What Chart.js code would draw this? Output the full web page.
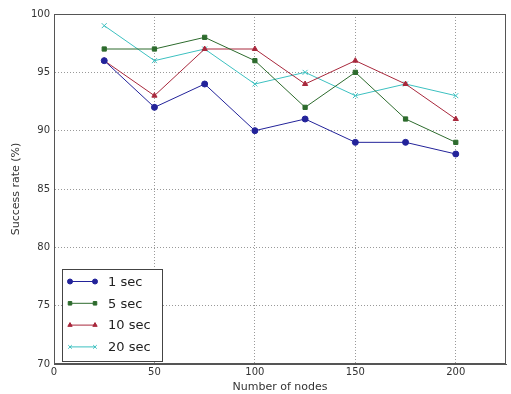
<!DOCTYPE html>
<html>
<head>
<meta charset="utf-8">
<script src="https://cdn.jsdelivr.net/npm/chart.js@4"></script>
<style>
  html, body { margin: 0; padding: 0; background: #fff; }
  #wrap { width: 511px; height: 394px; position: relative; }
</style>
</head>
<body>
<div id="wrap"><canvas id="chart" width="511" height="394"></canvas></div>
<script>
// Data
const nodes = [25, 50, 75, 100, 125, 150, 175, 200];
const sec1 = [96, 92, 94, 90, 91, 89, 89, 88];
const sec5 = [97, 97, 98, 96, 92, 95, 91, 89];
const sec10 = [96, 93, 97, 97, 94, 96, 94, 91];
const sec20 = [99, 96, 97, 94, 95, 93, 94, 93];
const xTicks = [0, 50, 100, 150, 200];
const yTicks = [70, 75, 80, 85, 90, 95, 100];

const pts = vals => vals.map((v, i) => ({ x: nodes[i], y: v }));

function series(label, vals, color, style) {
  return {
    label: label,
    data: pts(vals),
    borderColor: color,
    backgroundColor: color,
    borderWidth: 1,
    pointStyle: style,
    pointRadius: style === 'crossRot' ? 3.5 : 3,
    pointBorderWidth: 1,
    showLine: true,
    tension: 0
  };
}

// matplotlib-like legend box in the lower left
const legendBox = {
  id: 'legendBox',
  afterDraw(chart) {
    const ctx = chart.ctx;
    const x0 = 62, y0 = 269, w = 100, h = 92;
    ctx.save();
    ctx.fillStyle = '#fff';
    ctx.fillRect(x0, y0, w, h);
    ctx.strokeStyle = '#444';
    ctx.lineWidth = 1;
    ctx.strokeRect(x0 + 0.5, y0 + 0.5, w, h);
    ctx.font = '13px "DejaVu Sans"';
    ctx.textBaseline = 'middle';
    chart.data.datasets.forEach((ds, i) => {
      const y = y0 + 12.5 + i * 21.8;
      ctx.strokeStyle = ds.borderColor;
      ctx.fillStyle = ds.backgroundColor;
      ctx.beginPath();
      ctx.moveTo(x0 + 8, y);
      ctx.lineTo(x0 + 33, y);
      ctx.stroke();
      [x0 + 8, x0 + 33].forEach(px => {
        Chart.helpers.drawPoint(ctx, { pointStyle: ds.pointStyle, radius: 2.5, borderWidth: 1 }, px, y);
      });
      ctx.fillStyle = '#222';
      ctx.fillText(ds.label, x0 + 46, y + 1);
    });
    ctx.restore();
  }
};

const tickFont = { family: 'DejaVu Sans', size: 10 };
const titleFont = { family: 'DejaVu Sans', size: 11 };

new Chart(document.getElementById('chart').getContext('2d'), {
  type: 'scatter',
  data: {
    datasets: [
      series('1 sec', sec1, '#23239a', 'circle'),
      series('5 sec', sec5, '#2d6b2d', 'rect'),
      series('10 sec', sec10, '#a8283c', 'triangle'),
      series('20 sec', sec20, '#3cc0c0', 'crossRot')
    ]
  },
  options: {
    responsive: false,
    animation: false,
    layout: { padding: { top: 14, right: 3, left: 0, bottom: 0 } },
    plugins: { legend: { display: false }, tooltip: { enabled: false } },
    scales: {
      x: {
        type: 'linear',
        min: 0,
        max: 225,
        afterBuildTicks: s => { s.ticks = xTicks.map(v => ({ value: v })); },
        afterFit: s => { s.height = 30; },
        border: { color: '#555', width: 1, dash: [1, 2] },
        grid: { color: '#999', drawTicks: false },
        ticks: { color: '#333', font: tickFont, padding: 2, maxRotation: 0 },
        title: { display: true, text: 'Number of nodes', color: '#333', font: titleFont, padding: 0 }
      },
      y: {
        min: 70,
        max: 100,
        afterBuildTicks: s => { s.ticks = yTicks.map(v => ({ value: v })); },
        afterFit: s => { s.width = 54; },
        border: { color: '#555', width: 1, dash: [1, 2] },
        grid: { color: '#999', drawTicks: false },
        ticks: { color: '#333', font: tickFont, padding: 4 },
        title: { display: true, text: 'Success rate (%)', color: '#333', font: titleFont, padding: { top: 10, bottom: 0 } }
      }
    }
  },
  plugins: [legendBox, {
    id: 'frame',
    afterDatasetsDraw(chart) {
      const a = chart.chartArea, ctx = chart.ctx;
      ctx.save();
      ctx.strokeStyle = '#555';
      ctx.lineWidth = 1;
      ctx.strokeRect(Math.round(a.left) + 0.5, Math.round(a.top) + 0.5, Math.round(a.right - a.left) - 1, Math.round(a.bottom - a.top) - 1);
      ctx.restore();
    }
  }]
});
</script>
</body>
</html>
